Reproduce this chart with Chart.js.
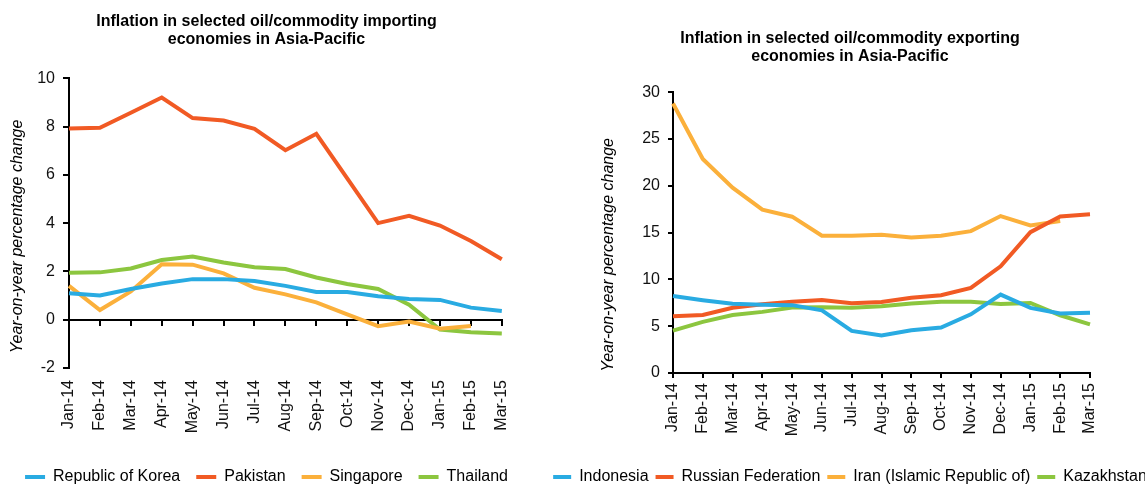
<!DOCTYPE html>
<html>
<head>
<meta charset="utf-8">
<script src="https://cdn.jsdelivr.net/npm/chart.js@4"></script>
<style>
  body { margin: 0; overflow: hidden; background: #fff; }
  .box { position: absolute; top: 0; height: 495px; }
</style>
</head>
<body>
<div class="box" style="left:0;width:533px"><canvas id="importChart"></canvas></div>
<div class="box" style="left:535px;width:630px"><canvas id="exportChart"></canvas></div>
<script>
const months = ["Jan-14", "Feb-14", "Mar-14", "Apr-14", "May-14", "Jun-14", "Jul-14", "Aug-14",
  "Sep-14", "Oct-14", "Nov-14", "Dec-14", "Jan-15", "Feb-15", "Mar-15"];

// importing economies
const korea = [1.1, 1.0, 1.27, 1.5, 1.68, 1.68, 1.6, 1.4, 1.15, 1.15, 0.97, 0.86, 0.82, 0.5, 0.36];
const pakistan = [7.92, 7.95, 8.57, 9.2, 8.35, 8.25, 7.9, 7.02, 7.7, 5.85, 4.0, 4.3, 3.9, 3.26, 2.5];
const singapore = [1.4, 0.4, 1.17, 2.3, 2.28, 1.92, 1.32, 1.05, 0.72, 0.22, -0.27, -0.08, -0.37, -0.26, null];
const thailand = [1.94, 1.96, 2.12, 2.47, 2.62, 2.37, 2.17, 2.1, 1.75, 1.48, 1.27, 0.62, -0.41, -0.52, -0.57];

// exporting economies
const indonesia = [8.22, 7.78, 7.4, 7.3, 7.25, 6.7, 4.5, 4.0, 4.57, 4.85, 6.27, 8.38, 6.96, 6.35, 6.45];
const russia = [6.06, 6.2, 6.97, 7.35, 7.6, 7.81, 7.45, 7.58, 8.05, 8.3, 9.1, 11.4, 15.05, 16.73, 16.95];
const iran = [28.8, 22.87, 19.8, 17.45, 16.7, 14.66, 14.66, 14.77, 14.48, 14.66, 15.16, 16.77, 15.77, 16.23, null];
const kazakhstan = [4.53, 5.46, 6.2, 6.53, 6.99, 7.03, 6.96, 7.13, 7.42, 7.6, 7.6, 7.38, 7.49, 6.17, 5.2];

const BLUE = '#29abe2', RED = '#f15a24', YELLOW = '#fbb03b', GREEN = '#8cc63f';
const FONT = '"Liberation Sans", Arial, sans-serif';
const AXIS_TITLE = 'Year-on-year percentage change';

function line(label, data, color) {
  return {
    label, data,
    borderColor: color, backgroundColor: color,
    borderWidth: 4, pointRadius: 0, tension: 0, spanGaps: false
  };
}

function legendLabels(chart) {
  return Chart.defaults.plugins.legend.labels.generateLabels(chart)
    .map(l => ({ ...l, lineWidth: 0 }));
}

Chart.defaults.font.family = FONT;
Chart.defaults.font.size = 16;
Chart.defaults.color = '#111';
Chart.defaults.animation = false;

// left chart: y axis crosses at 0, labels at the bottom
new Chart(document.getElementById('importChart'), {
  type: 'line',
  data: {
    labels: months,
    datasets: [
      line('Republic of Korea', korea, BLUE),
      line('Pakistan', pakistan, RED),
      line('Singapore', singapore, YELLOW),
      line('Thailand', thailand, GREEN)
    ]
  },
  options: {
    responsive: true,
    maintainAspectRatio: false,
    plugins: {
      tooltip: { enabled: false },
      title: {
        display: true,
        text: ['Inflation in selected oil/commodity importing', 'economies in Asia-Pacific'],
        color: '#000',
        font: { size: 16, weight: 'bold', lineHeight: 1.1 },
        padding: { top: 13, bottom: 30 }
      },
      legend: {
        position: 'bottom',
        labels: { boxWidth: 20, boxHeight: 4, padding: 16, color: '#000', generateLabels: legendLabels }
      }
    },
    scales: {
      x: {
        position: { y: 0 },
        grid: { drawOnChartArea: false, tickLength: 5, color: '#000', lineWidth: 2 },
        border: { color: '#000', width: 2 },
        ticks: { display: false }
      },
      y: {
        min: -2, max: 10,
        ticks: { stepSize: 2, padding: 8 },
        grid: { drawOnChartArea: false, tickLength: 6, color: '#000', lineWidth: 2 },
        border: { color: '#000', width: 2 },
        title: {
          display: true,
          text: AXIS_TITLE + '\u00a0'.repeat(6),
          font: { style: 'italic', size: 16 },
          color: '#000',
          padding: { top: 8, bottom: 0 }
        },
        afterFit: s => { s.width = 69; }
      },
      xl: {
        type: 'category',
        position: 'bottom',
        grid: { display: false, drawTicks: false },
        border: { display: false },
        ticks: { minRotation: 90, maxRotation: 90, autoSkip: false, padding: 12 },
        afterFit: s => { s.height = 85; }
      },
      pad: {
        position: 'right',
        grid: { display: false },
        border: { display: false },
        ticks: { display: false },
        afterFit: s => { s.width = 30; }
      }
    }
  }
});

// right chart
new Chart(document.getElementById('exportChart'), {
  type: 'line',
  data: {
    labels: months,
    datasets: [
      line('Indonesia', indonesia, BLUE),
      line('Russian Federation', russia, RED),
      line('Iran (Islamic Republic of)', iran, YELLOW),
      line('Kazakhstan', kazakhstan, GREEN)
    ]
  },
  options: {
    responsive: true,
    maintainAspectRatio: false,
    plugins: {
      tooltip: { enabled: false },
      title: {
        display: true,
        text: ['Inflation in selected oil/commodity exporting', 'economies in Asia-Pacific'],
        color: '#000',
        font: { size: 16, weight: 'bold', lineHeight: 1.1 },
        padding: { top: 30, bottom: 27 }
      },
      legend: {
        position: 'bottom',
        labels: { boxWidth: 18, boxHeight: 4, padding: 7, color: '#000', generateLabels: legendLabels }
      }
    },
    scales: {
      x: {
        position: 'bottom',
        grid: { drawOnChartArea: false, tickLength: 5, color: '#000', lineWidth: 2 },
        border: { color: '#000', width: 2 },
        ticks: { minRotation: 90, maxRotation: 90, autoSkip: false, padding: 5 },
        afterFit: s => { s.height = 89; }
      },
      y: {
        min: 0, max: 30,
        ticks: { stepSize: 5, padding: 8 },
        grid: { drawOnChartArea: false, tickLength: 5, color: '#000', lineWidth: 2 },
        border: { color: '#000', width: 2 },
        title: {
          display: true,
          text: AXIS_TITLE + '\u00a0'.repeat(10),
          font: { style: 'italic', size: 16 },
          color: '#000',
          padding: { top: 64, bottom: 0 }
        },
        afterFit: s => { s.width = 138; }
      },
      pad: {
        position: 'right',
        grid: { display: false },
        border: { display: false },
        ticks: { display: false },
        afterFit: s => { s.width = 75; }
      }
    }
  }
});
</script>
</body>
</html>
